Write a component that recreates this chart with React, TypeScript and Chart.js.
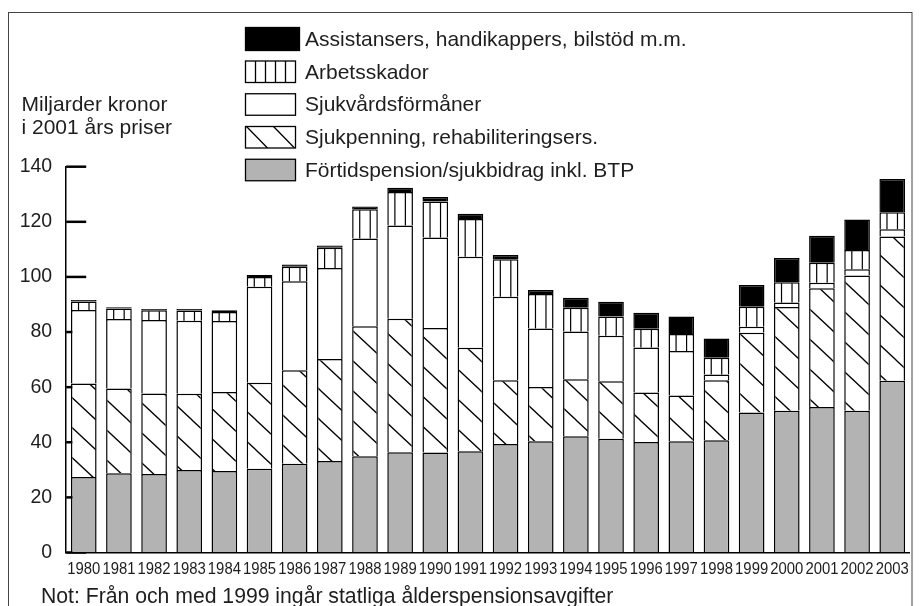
import React, { useEffect, useRef } from 'react';
import { Chart, registerables } from 'chart.js';
Chart.register(...registerables);

const years = ['1980','1981','1982','1983','1984','1985','1986','1987','1988','1989','1990','1991','1992','1993','1994','1995','1996','1997','1998','1999','2000','2001','2002','2003'];
const fortidspension = [27.4,28.8,28.5,29.9,29.6,30.4,32.2,33.2,34.9,36.4,36.3,36.7,39.4,40.4,42.2,41.3,40.1,40.4,40.7,50.8,51.4,52.8,51.4,62.3];
const sjukpenning = [33.9,30.7,29.2,27.7,28.6,31.2,33.9,37.0,47.2,48.4,45.2,37.6,23.1,19.7,20.7,20.8,18.0,16.6,21.8,28.9,37.7,43.1,49.1,52.4];
const sjukvard = [26.7,25.2,26.7,26.5,25.8,34.8,32.3,33.0,31.8,33.9,32.8,33.0,30.3,21.2,17.3,16.6,16.3,16.1,2.1,2.2,1.6,2.0,2.3,2.6];
const arbetsskador = [3.1,3.8,3.5,3.7,3.3,3.6,5.3,7.4,10.7,12.1,13.1,13.7,13.6,12.5,8.6,6.9,6.8,6.2,6.1,7.3,7.4,7.2,7.0,6.2];
const assistans = [0.5,0.5,0.5,0.6,0.6,0.7,0.8,0.8,1.0,1.6,1.6,1.9,1.6,1.5,3.6,5.4,5.8,6.3,7.0,7.9,8.8,9.8,11.0,12.0];
const yTicks = [0, 20, 40, 60, 80, 100, 120, 140];
const legendLabels = [
  'Assistansers, handikappers, bilstöd m.m.',
  'Arbetsskador',
  'Sjukvårdsförmåner',
  'Sjukpenning, rehabiliteringsers.',
  'Förtidspension/sjukbidrag inkl. BTP',
];
const axisTitle = ['Miljarder kronor', 'i 2001 års priser'];
const note = 'Not: Från och med 1999 ingår statliga ålderspensionsavgifter';

const GRAY = '#b3b3b3';
const INK = '#1e1e1e';
const SANS = "'Liberation Sans', Arial, Helvetica, sans-serif";

function makeHatch(ctx: CanvasRenderingContext2D) {
  const w = 32, h = 30;
  const c = document.createElement('canvas');
  c.width = w; c.height = h;
  const g = c.getContext('2d')!;
  g.fillStyle = '#fff';
  g.fillRect(0, 0, w, h);
  g.strokeStyle = '#000';
  g.lineWidth = 1.3;
  for (const k of [-1, 0, 1]) {
    g.beginPath();
    g.moveTo(k * w - 2 * w / h, -2);
    g.lineTo(k * w + w + 2 * w / h, h + 2);
    g.stroke();
  }
  return ctx.createPattern(c, 'repeat')!;
}

export default function App() {
  const ref = useRef<HTMLCanvasElement>(null);
  useEffect(() => {
    const canvas = ref.current!;
    const ctx = canvas.getContext('2d')!;
    const hatch = makeHatch(ctx);

    const decor = {
      id: 'decor',
      beforeDatasetsDraw(chart: any) {
        const c = chart.ctx;
        const ys = chart.scales.y;
        const left = chart.chartArea.left;
        c.save();
        c.strokeStyle = '#000';
        c.lineWidth = 2.5;
        for (const v of yTicks) {
          const py = ys.getPixelForValue(v);
          c.beginPath();
          c.moveTo(left, py);
          c.lineTo(left + 20, py);
          c.stroke();
        }
        c.restore();
      },
      afterDatasetDraw(chart: any, args: any) {
        if (args.index !== 3) return;
        const c = chart.ctx;
        const meta = chart.getDatasetMeta(3);
        c.save();
        c.strokeStyle = '#000';
        c.lineWidth = 1.2;
        for (const el of meta.data) {
          const p = el.getProps(['x', 'y', 'base', 'width'], true);
          const top = Math.min(p.y, p.base), bot = Math.max(p.y, p.base);
          if (bot - top < 2) continue;
          for (const dx of [-5.25, 5.25]) {
            c.beginPath();
            c.moveTo(p.x + dx, top + 1);
            c.lineTo(p.x + dx, bot);
            c.stroke();
          }
        }
        c.restore();
      },
      afterDraw(chart: any) {
        const c = chart.ctx;
        c.save();
        // frame
        c.strokeStyle = '#444';
        c.lineWidth = 1;
        c.strokeRect(8.5, 12.5, 903.5, 620);
        // condensed year labels, positioned by the category scale
        const xs = chart.scales.x;
        c.fillStyle = INK;
        c.font = `17.3px ${SANS}`;
        c.textAlign = 'center';
        c.textBaseline = 'middle';
        years.forEach((lbl, i) => {
          const px = xs.getPixelForTick(i);
          c.save();
          c.translate(px, 569.5);
          c.scale(0.86, 1);
          c.fillText(lbl, 0, 0);
          c.restore();
        });
        // axis title
        c.textAlign = 'left';
        c.textBaseline = 'alphabetic';
        c.font = `21px ${SANS}`;
        c.fillText(axisTitle[0], 21.5, 110.5);
        c.fillText(axisTitle[1], 21.5, 134);
        // note
        c.font = `21.2px ${SANS}`;
        c.fillText(note, 41, 603);
        // legend
        const fills = ['#000', 'arb', '#fff', 'hatch', GRAY];
        for (let i = 0; i < legendLabels.length; i++) {
          const cy = 39 + i * 32.75;
          const bx = 245.5;
          const bw = i === 0 ? 54 : 50;
          const bh = i === 0 ? 23 : 21.5;
          const by = cy - bh / 2;
          c.lineWidth = 1.3;
          c.strokeStyle = '#000';
          c.fillStyle = fills[i] === 'arb' || fills[i] === 'hatch' ? '#fff' : fills[i];
          c.fillRect(bx, by, bw, bh);
          if (fills[i] === 'arb') {
            c.beginPath();
            for (let k = 1; k < 5; k++) {
              c.moveTo(bx + k * 10, by);
              c.lineTo(bx + k * 10, by + bh);
            }
            c.stroke();
          }
          if (fills[i] === 'hatch') {
            c.save();
            c.beginPath();
            c.rect(bx, by, bw, bh);
            c.clip();
            c.beginPath();
            c.moveTo(bx + 1, by);
            c.lineTo(bx + 22, by + bh);
            c.moveTo(bx + 28, by);
            c.lineTo(bx + 49, by + bh);
            c.stroke();
            c.restore();
          }
          c.strokeRect(bx, by, bw, bh);
          c.fillStyle = INK;
          c.font = `21px ${SANS}`;
          c.textBaseline = 'middle';
          c.fillText(legendLabels[i], 305, cy + 1);
        }
        c.restore();
      },
    };

    const common = { borderColor: '#000', borderWidth: 1.5, barPercentage: 0.73, categoryPercentage: 1 };
    const chart = new Chart(canvas, {
      type: 'bar',
      data: {
        labels: years,
        datasets: [
          { label: legendLabels[4], data: fortidspension, backgroundColor: GRAY, ...common },
          { label: legendLabels[3], data: sjukpenning, backgroundColor: hatch as any, ...common },
          { label: legendLabels[2], data: sjukvard, backgroundColor: '#fff', ...common },
          { label: legendLabels[1], data: arbetsskador, backgroundColor: '#fff', ...common },
          { label: legendLabels[0], data: assistans, backgroundColor: '#000', ...common },
        ],
      },
      options: {
        responsive: false,
        animation: false,
        devicePixelRatio: 1,
        layout: { padding: { top: 166.7, right: 14.2, bottom: 0, left: 0 } },
        plugins: { legend: { display: false }, tooltip: { enabled: false } },
        scales: {
          x: {
            stacked: true,
            grid: { display: false, drawTicks: false },
            border: { display: true, color: '#000', width: 1.5, z: 1 },
            ticks: { font: { family: SANS, size: 16 }, color: 'rgba(0,0,0,0)', padding: 9, maxRotation: 0, autoSkip: false },
            afterFit: (s: any) => { s.height = 53.5; },
          },
          y: {
            stacked: true,
            min: 0,
            max: 140,
            grid: { display: false, drawTicks: false },
            border: { display: true, color: '#000', width: 1.5 },
            ticks: { stepSize: 20, font: { family: SANS, size: 19.5 }, color: INK, padding: 14 },
            afterFit: (s: any) => { s.width = 66.2; },
          },
        },
      },
      plugins: [decor],
    });
    return () => chart.destroy();
  }, []);
  return (
    <div style={{ position: 'absolute', left: 0, top: 0, width: 924, height: 606, background: '#fff' }}>
      <canvas ref={ref} width={924} height={606} style={{ display: 'block' }} />
    </div>
  );
}
